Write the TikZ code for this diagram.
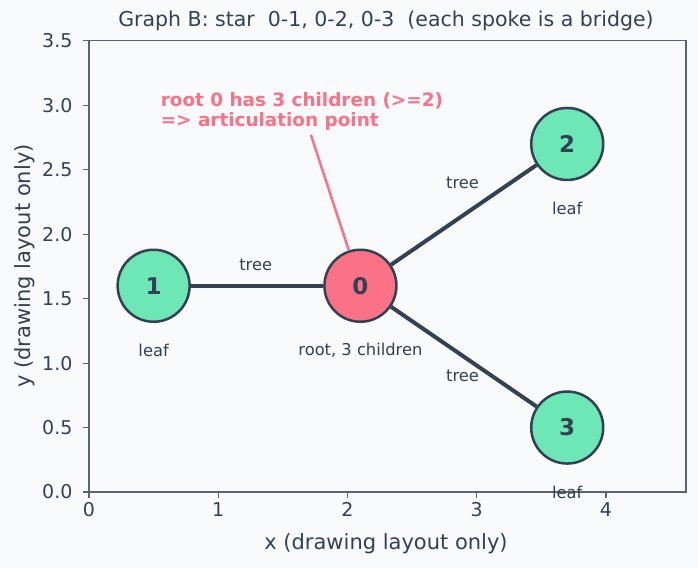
\documentclass[tikz,border=0pt]{standalone}
\usepackage{fontspec}
\setmainfont{DejaVu Sans}
\definecolor{bgcol}{HTML}{F9FAFC}
\definecolor{inkcol}{HTML}{334155}
\definecolor{spinecol}{HTML}{5B6272}
\definecolor{leafcol}{HTML}{6EE7B7}
\definecolor{rootcol}{HTML}{FB7185}
\tikzset{
  vtx/.style={circle, draw=inkcol, line width=2.5pt, minimum size=72pt, inner sep=0pt,
    font=\fontsize{23}{23}\selectfont\bfseries, text=inkcol},
  leafvtx/.style={vtx, fill=leafcol},
  rootvtx/.style={vtx, fill=rootcol},
  spoke/.style={draw=inkcol, line width=4pt},
  smalllbl/.style={font=\fontsize{16.3}{18}\selectfont, text=inkcol, inner sep=1pt},
  ticklbl/.style={font=\fontsize{19}{19}\selectfont, text=inkcol, inner sep=0pt},
  axislbl/.style={font=\fontsize{21}{21}\selectfont, text=inkcol},
}
\begin{document}
\begin{tikzpicture}[x=1pt, y=1pt]
            \fill[bgcol] (0,0) rectangle (698,568);
            \useasboundingbox (0,0) rectangle (698,568);
            \node[axislbl, font=\fontsize{20.5}{21}\selectfont] (title) at (386,547)
                {Graph B: star\ \ 0-1, 0-2, 0-3\ \ (each spoke is a bridge)};
            \node[axislbl] (xlabel) at (386,24) {x (drawing layout only)};
            \node[axislbl, rotate=90] (ylabel) at (25,302) {y (drawing layout only)};
            % Axes in data units
            \begin{scope}[shift={(89,76)}, x=129.25pt, y=128.9pt]
                \draw[spinecol, line width=1.2pt] (0,0) rectangle (4.619,3.5);
                \foreach \xv in {0,...,4}
                    \draw[spinecol, line width=1.2pt] (\xv,0) -- ++(0,-6pt)
                        node[ticklbl, anchor=north, yshift=-4pt] {\xv};
                \foreach \yv in {0.0,0.5,1.0,1.5,2.0,2.5,3.0,3.5}
                    \draw[spinecol, line width=1.2pt] (0,\yv) -- ++(-6pt,0)
                        node[ticklbl, anchor=east, xshift=-10pt] {\yv};
                % Graph
                \node[rootvtx] (n0) at (2.1,1.6) {0};
                \node[leafvtx] (n1) at (0.5,1.6) {1};
                \node[leafvtx] (n2) at (3.7,2.7) {2};
                \node[leafvtx] (n3) at (3.7,0.5) {3};
                \draw[spoke] (n0) -- (n1);
                \draw[spoke] (n0) -- (n2);
                \draw[spoke] (n0) -- (n3);
                \node[smalllbl] (t1) at (1.29,1.76) {tree};
                \node[smalllbl] (t2) at (2.89,2.40) {tree};
                \node[smalllbl] (t3) at (2.89,0.90) {tree};
                \node[smalllbl] (r0) at (2.1,1.1) {root, 3 children};
                \node[smalllbl] (l1) at (0.5,1.1) {leaf};
                \node[smalllbl] (l2) at (3.7,2.2) {leaf};
                \node[smalllbl] (l3) at (3.7,0.0) {leaf};
                % Annotation
                \node[anchor=north west, align=left, inner sep=0pt, text=rootcol,
                    font=\fontsize{18.4}{20}\selectfont\bfseries] (note) at (0.554,3.1)
                    {root 0 has 3 children (>=2)\\=> articulation point};
                \coordinate (tip) at (1.717,2.77);
                \draw[rootcol, line width=2.5pt] (tip) -- (n0);
            \end{scope}
        \end{tikzpicture}
\end{document}
